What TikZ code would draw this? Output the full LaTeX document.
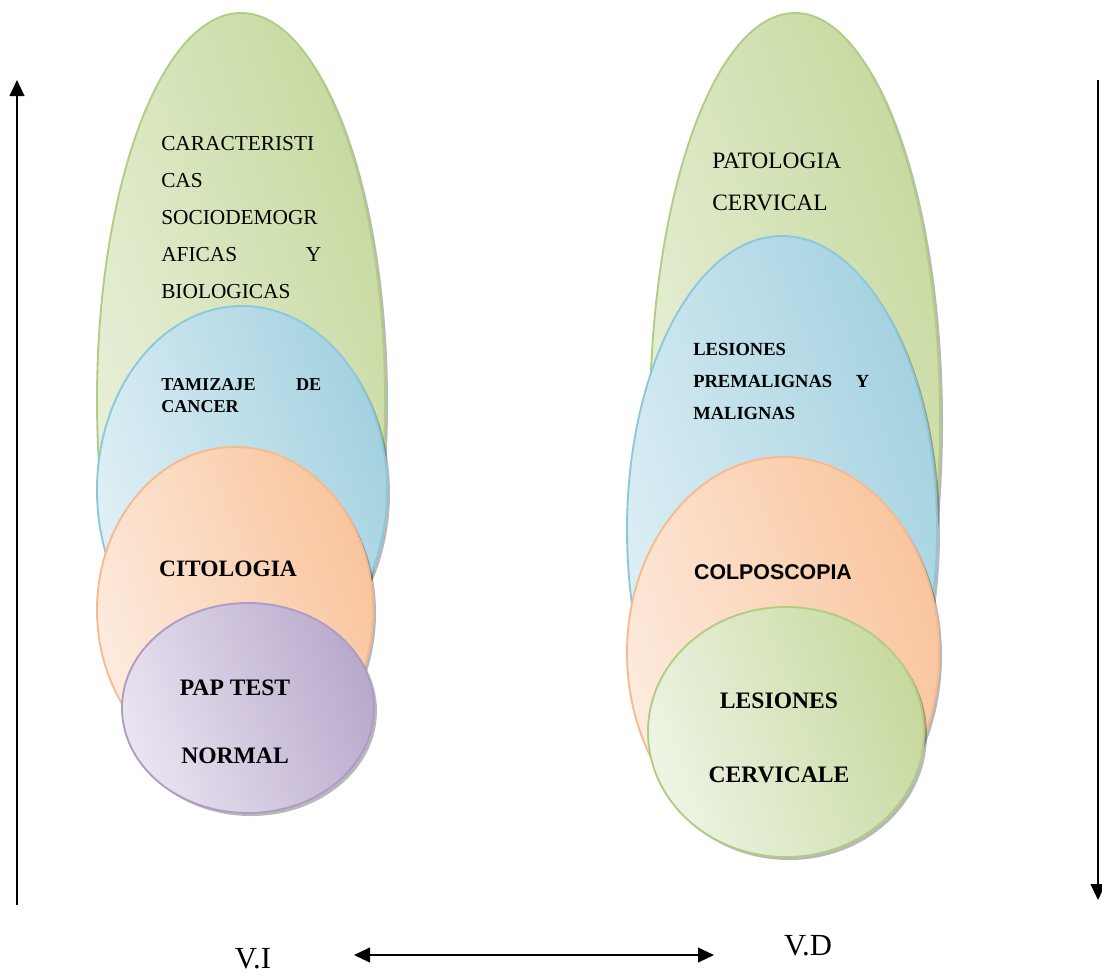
\documentclass[tikz,border=0pt]{standalone}
\usepackage{fontspec}
\setmainfont{Liberation Serif}
\newfontfamily\arialfont{Liberation Sans}
\usetikzlibrary{arrows.meta}
\definecolor{glight}{HTML}{EEF4E4}
\definecolor{gdark}{HTML}{C6D99E}
\definecolor{gline}{HTML}{B0CD83}
\definecolor{blight}{HTML}{E2F1F6}
\definecolor{bdark}{HTML}{A3D1E0}
\definecolor{bline}{HTML}{8CC8DC}
\definecolor{olight}{HTML}{FDECDF}
\definecolor{odark}{HTML}{F9C49C}
\definecolor{oline}{HTML}{F8BA8C}
\definecolor{plight}{HTML}{E9E4F0}
\definecolor{pdark}{HTML}{B9A9CC}
\definecolor{pline}{HTML}{AE9CC6}
\tikzset{
  x=0.75pt, y=-0.75pt,
  shadowshape/.style={fill=black, opacity=0.28},
  gshape/.style={draw=gline, line width=1.4pt, left color=glight, right color=gdark, shading angle=110},
  bshape/.style={draw=bline, line width=1.4pt, left color=blight, right color=bdark, shading angle=110},
  oshape/.style={draw=oline, line width=1.4pt, left color=olight, right color=odark, shading angle=110},
  pshape/.style={draw=pline, line width=1.4pt, left color=plight, right color=pdark, shading angle=110},
  txt/.style={inner sep=0pt, text=black},
  axisarrow/.style={line width=1.6pt, -{Triangle[length=12pt,width=11pt]}},
  botharrow/.style={line width=1.6pt, {Triangle[length=12pt,width=11pt]}-{Triangle[length=12pt,width=11pt]}}
}
\begin{document}
\begin{tikzpicture}
\useasboundingbox (0,0) rectangle (1102,975);
% ---------- left stack ----------
\fill[shadowshape] (244,403) ellipse [x radius=108pt, y radius=290.25pt];
\path[gshape] (241,400) ellipse [x radius=108pt, y radius=290.25pt];
\fill[shadowshape] (245,493) ellipse [x radius=108.75pt, y radius=138pt];
\path[bshape] (242,490) ellipse [x radius=108.75pt, y radius=138pt];
\fill[shadowshape] (238,613) ellipse [x radius=103.5pt, y radius=122.25pt];
\path[oshape] (235,610) ellipse [x radius=103.5pt, y radius=122.25pt];
\fill[shadowshape] (251,711) ellipse [x radius=94.5pt, y radius=78.75pt];
\path[pshape] (248,708) ellipse [x radius=94.5pt, y radius=78.75pt];
% ---------- right stack ----------
\fill[shadowshape] (798,423) ellipse [x radius=108.75pt, y radius=305.25pt];
\path[gshape] (795,420) ellipse [x radius=108.75pt, y radius=305.25pt];
\fill[shadowshape] (785,533) ellipse [x radius=116.25pt, y radius=220.5pt];
\path[bshape] (782,530) ellipse [x radius=116.25pt, y radius=220.5pt];
\fill[shadowshape] (786,656) ellipse [x radius=117pt, y radius=147pt];
\path[oshape] (783,653) ellipse [x radius=117pt, y radius=147pt];
\fill[shadowshape] (789,735) ellipse [x radius=103.5pt, y radius=93.75pt];
\path[gshape] (786,732) ellipse [x radius=103.5pt, y radius=93.75pt];
% ---------- texts ----------
\node[txt, anchor=north west, text width=120pt, align=left,
      font=\fontsize{16}{27.75}\selectfont] (caract) at (161,136)
  {CARACTERISTI\\CAS\\SOCIODEMOGR\\AFICAS\hfill Y\\BIOLOGICAS};
\node[txt, anchor=north west, text width=120pt, align=left,
      font=\bfseries\fontsize{13.6}{16.5}\selectfont] (tamiz) at (161,378)
  {TAMIZAJE\hfill DE\\CANCER};
\node[txt, font=\bfseries\fontsize{17.6}{21}\selectfont] (cito) at (228,569) {CITOLOGIA};
\node[txt, align=center, font=\bfseries\fontsize{17.7}{51}\selectfont] (pap) at (235,722)
  {PAP TEST\\NORMAL};
\node[txt, anchor=north west, align=left,
      font=\fontsize{17.6}{31.5}\selectfont] (pato) at (712,153)
  {PATOLOGIA\\CERVICAL};
\node[txt, anchor=north west, text width=132pt, align=left,
      font=\bfseries\fontsize{13.9}{24}\selectfont] (lesprem) at (693,343)
  {LESIONES\\PREMALIGNAS\hfill Y\\MALIGNAS};
\node[txt, font=\arialfont\bfseries\fontsize{16}{19}\selectfont] (colpo) at (773,572) {COLPOSCOPIA};
\node[txt, align=center, font=\bfseries\fontsize{17.7}{55.5}\selectfont] (lescerv) at (779,738)
  {LESIONES\\CERVICALE};
\node[txt, font=\fontsize{23}{27}\selectfont] (vi) at (253,959) {V.I};
\node[txt, font=\fontsize{23}{27}\selectfont] (vd) at (808,946) {V.D};
% ---------- arrows ----------
\coordinate (lbot) at (17,905);
\coordinate (ltop) at (17,80);
\coordinate (rtop) at (1098,80);
\coordinate (rbot) at (1098,900);
\coordinate (hl) at (354,955);
\coordinate (hr) at (714,955);
\draw[axisarrow] (lbot) -- (ltop);
\draw[axisarrow] (rtop) -- (rbot);
\draw[botharrow] (hl) -- (hr);
\end{tikzpicture}
\end{document}
